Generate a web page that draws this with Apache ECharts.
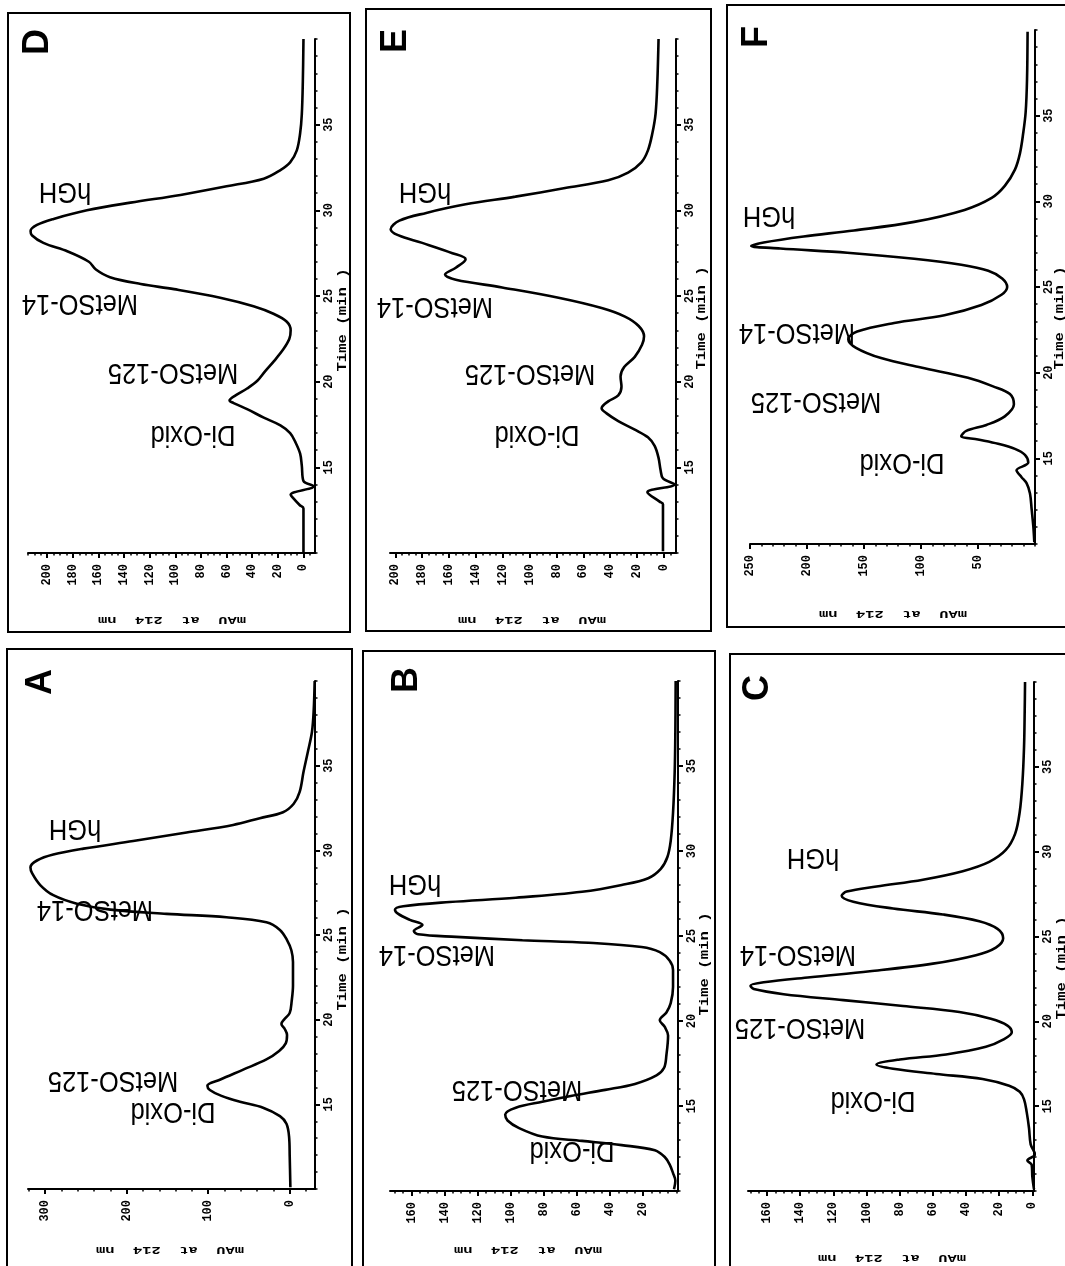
<!DOCTYPE html>
<html><head><meta charset="utf-8">
<script src="https://cdn.jsdelivr.net/npm/echarts@6/dist/echarts.min.js"></script>
<style>html,body{margin:0;padding:0;background:#fff}#c{width:1065px;height:1266px}</style>
</head><body><div id="c"></div>
<script>
// ---------- DATA (time in min, absorbance in mAU) ----------
const panelNames = ['D', 'E', 'F', 'A', 'B', 'C'];
const peakNames = ['hGH', 'MetSO-14', 'MetSO-125', 'Di-Oxid'];
const timeAxisTitle = 'Time (min )';
const mauAxisTitle = 'mAU  at  214  nm';

const timeD = [10.0, 12.6, 12.8, 13.2, 13.4, 13.9, 14.2, 15.1, 15.8, 16.5, 17.0, 17.45, 17.9, 18.4, 18.75, 18.9, 19.2, 19.6, 20.05, 20.6, 21.2, 21.9, 22.5, 23.0, 23.5, 23.95, 24.4, 24.9, 25.4, 25.7, 26.1, 26.55, 27.0, 27.6, 28.1, 28.55, 28.8, 29.15, 29.5, 30.0, 30.45, 30.9, 31.4, 31.85, 32.35, 32.8, 33.5, 34.5, 35.6, 37.5, 40.0];
const mauD  = [0, 0, 3, 8, 10, -8, 0, 1.3, 2.6, 6.5, 10.4, 18, 31, 44, 54.5, 57.7, 53, 44, 36, 30, 23, 15.6, 11, 10, 13, 23, 39, 65, 101, 127, 151, 162, 167.5, 184, 203, 212, 213, 208, 195, 169, 135, 96, 60, 31, 18, 10.4, 5.2, 2.6, 1.3, 0.5, 0];

const timeE = [10.1, 12.85, 13.0, 13.55, 14.0, 14.35, 14.85, 15.55, 16.25, 16.75, 17.2, 17.7, 18.15, 18.45, 18.85, 19.2, 19.7, 20.3, 20.85, 21.45, 22.15, 22.65, 23.25, 23.8, 24.3, 24.9, 25.5, 25.95, 26.25, 26.65, 27.15, 27.5, 28.1, 28.55, 28.9, 29.4, 29.85, 30.35, 30.8, 31.3, 31.75, 32.2, 32.8, 33.5, 34.5, 35.65, 37.5, 40.0];
const mauE  = [0.7, 0.7, 3.2, 12.3, -7.9, 0.7, 2.5, 4, 6.9, 11.9, 21.7, 34, 42.7, 46.4, 41.5, 34, 31.6, 32.3, 29.6, 21.7, 16.3, 14.8, 18.8, 29, 46.4, 78.5, 120.5, 155, 163, 155, 147.7, 157.5, 180, 198, 203.5, 197, 177, 147.7, 110.6, 73.6, 41.5, 26.7, 16.8, 11.9, 8.6, 6.2, 4.9, 4];

const timeF = [10.1, 11.05, 12.0, 12.95, 13.55, 13.9, 14.3, 14.75, 15.2, 15.55, 15.85, 16.1, 16.3, 16.6, 16.95, 17.45, 18.15, 18.75, 19.2, 19.7, 20.3, 20.85, 21.45, 21.95, 22.4, 22.9, 23.35, 23.95, 24.55, 25.0, 25.5, 25.95, 26.3, 26.65, 27.0, 27.25, 27.4, 27.6, 27.95, 28.3, 28.8, 29.5, 30.2, 30.9, 31.85, 32.8, 34.0, 35.2, 37.1, 39.9];
const mauF  = [0.6, 1.5, 2.9, 4.4, 7.4, 11.8, 16.2, 5.9, 8.8, 17.6, 32.4, 50, 64.7, 60.3, 42.6, 26.5, 18.5, 22, 36.8, 58.8, 100, 135, 157, 163.8, 156, 123.5, 79.4, 47, 29.4, 24.4, 28.8, 41, 64.7, 106, 164.7, 223.5, 249, 238, 203, 158.8, 106, 61.8, 38, 26.5, 17.6, 13.2, 10.3, 8.2, 7, 6.5];

const timeA = [10.1, 11.9, 13.1, 13.85, 14.3, 14.8, 15.15, 15.5, 15.85, 16.1, 16.45, 17.05, 17.65, 18.15, 18.6, 19.1, 19.45, 19.75, 20.05, 20.4, 21.1, 22.0, 23.4, 24.1, 24.7, 25.3, 25.75, 26.05, 26.25, 26.5, 26.85, 27.35, 27.95, 28.65, 29.0, 29.4, 29.75, 30.1, 30.55, 31.05, 31.5, 31.9, 32.25, 32.75, 33.45, 34.65, 35.85, 37.0, 38.25, 40.0];
const mauA  = [-0.8, 0, 0.8, 4, 12, 32.7, 61, 83.7, 98, 101, 85.7, 57, 28.6, 13, 4.9, 3.3, 6.1, 10.2, 6.1, 0, -2.4, -4, -4, -2, 3.3, 12, 28.6, 77.6, 151, 220, 261, 290, 306, 316, 318, 310, 290, 253, 192, 126.5, 69.4, 36.7, 8.2, -4.9, -12.2, -17, -22.4, -27.3, -29.4, -30.6];

const timeB = [10.1, 10.6, 11.05, 11.55, 12.0, 12.4, 12.7, 12.95, 13.2, 13.7, 14.15, 14.5, 14.9, 15.25, 15.6, 15.95, 16.3, 16.8, 17.25, 18.0, 19.15, 19.65, 20.05, 20.5, 21.05, 22.0, 23.0, 23.55, 24.05, 24.35, 24.6, 24.75, 24.95, 25.1, 25.3, 25.65, 25.95, 26.3, 26.55, 26.75, 27.0, 27.25, 27.6, 28.0, 28.4, 28.95, 29.65, 30.6, 32.25, 34.65, 37.0, 40.0];
const mauB  = [1.4, 0.6, 2, 4, 7, 13, 33, 57, 81, 95, 102, 103.4, 97, 81, 63, 43, 25, 12, 7.4, 6, 5, 7, 10, 6, 3.4, 2, 2, 4, 10, 21, 53, 93, 133, 156, 158.6, 153.4, 161, 168, 170, 165, 137, 97, 57, 33, 17, 9.4, 5.4, 3.4, 2, 1, 0.6, 0.4];

const timeC = [10.1, 10.85, 11.55, 11.8, 12.15, 12.75, 13.7, 14.65, 15.4, 15.85, 16.2, 16.6, 16.9, 17.2, 17.45, 17.75, 18.05, 18.5, 18.95, 19.35, 19.75, 20.15, 20.55, 20.9, 21.25, 21.6, 21.9, 22.1, 22.3, 22.6, 22.95, 23.4, 23.9, 24.35, 24.9, 25.45, 25.9, 26.3, 26.65, 27.05, 27.4, 27.65, 27.95, 28.35, 28.85, 29.4, 30.1, 31.05, 32.35, 34.05, 36.2, 38.35, 40.0];
const mauC  = [-1, 0, 0.4, 3, -1.6, 1, 2, 3.4, 5, 7.6, 14, 30, 58, 84, 94, 80, 52, 28, 17, 12.4, 15, 25, 44, 78, 114, 150, 168, 170, 162, 134, 98, 60, 34, 22, 17.6, 21, 32, 54, 84, 108, 115, 112, 94, 66, 42, 26, 16, 10.4, 7.6, 6, 5, 4.6, 4.4];

// tick labels
const timeTickLabels = [15, 20, 25, 30, 35];
const mauTicksD = [0, 20, 40, 60, 80, 100, 120, 140, 160, 180, 200];
const mauTicksE = [0, 20, 40, 60, 80, 100, 120, 140, 160, 180, 200];
const mauTicksF = [50, 100, 150, 200, 250];
const mauTicksA = [0, 100, 200, 300];
const mauTicksB = [20, 40, 60, 80, 100, 120, 140, 160];
const mauTicksC = [0, 20, 40, 60, 80, 100, 120, 140, 160];
// axis extents
const timeRange = [10, 40];
const mauRangeD = [-9, 215];
const mauRangeE = [-9, 204];
const mauRangeF = [0, 250];
const mauRangeA = [-31, 321];
const mauRangeB = [-1, 173];
const mauRangeC = [-1, 171.5];

// ---------- LAYOUT ----------
const layout = {
  D: {grid: [28, 39, 287, 514], box: [8, 13, 342, 619], letter: [38, 42], peaks: [[65,191],[80,303],[173,372],[193,434]], tname: [343, 320], mname: [172, 620], minorStep: 5},
  E: {grid: [390, 39, 286, 514], box: [366, 9, 345, 622], letter: [396, 41], peaks: [[425,191],[435,306],[530,373],[537,434]], tname: [702, 318], mname: [532, 620], minorStep: 5},
  F: {grid: [750, 30, 285, 514], box: [727, 5, 345, 622], letter: [757, 37], peaks: [[769,215],[797,332],[816,401],[902,462]], tname: [1060, 318], mname: [893, 614], minorStep: 10},
  A: {grid: [28, 681, 287, 508], box: [7, 649, 345, 640], letter: [41, 682], peaks: [[75,828],[95,909],[113,1080],[173,1111]], tname: [343, 959], mname: [170, 1250], minorStep: 20},
  B: {grid: [390, 681, 288, 510], box: [363, 651, 352, 640], letter: [407, 680], peaks: [[415,883],[437,954],[517,1089],[572,1150]], tname: [705, 964], mname: [528, 1250], minorStep: 5},
  C: {grid: [748, 682, 286, 509], box: [730, 654, 345, 640], letter: [758, 688], peaks: [[813,857],[798,954],[800,1027],[873,1100]], tname: [1062, 968], mname: [892, 1258], minorStep: 5}
};

const series_t = {D: timeD, E: timeE, F: timeF, A: timeA, B: timeB, C: timeC};
const series_m = {D: mauD, E: mauE, F: mauF, A: mauA, B: mauB, C: mauC};
const ticks_m = {D: mauTicksD, E: mauTicksE, F: mauTicksF, A: mauTicksA, B: mauTicksB, C: mauTicksC};
const range_m = {D: mauRangeD, E: mauRangeE, F: mauRangeF, A: mauRangeA, B: mauRangeB, C: mauRangeC};

const MONO = '"Liberation Mono", "DejaVu Sans Mono", monospace';
const SANS = '"Liberation Sans", Arial, sans-serif';

const grids = [], xMain = [], xMinor = [], yMain = [], yMinor = [], series = [], elements = [];

function minorValues(r, step) {
  const out = [];
  for (let v = Math.ceil(r[0] / step) * step; v <= r[1] + 1e-9; v += step) out.push(v);
  return out;
}
function txt(x, y, rot, text, font, sx, sy) {
  return {type: 'text', x: x, y: y, rotation: rot, scaleX: sx || 1, scaleY: sy || 1, silent: true,
    style: {text: text, fill: '#000', font: font, align: 'center', verticalAlign: 'middle',
      textAlign: 'center', textVerticalAlign: 'middle'}};
}

panelNames.forEach((p, i) => {
  const L = layout[p];
  grids.push({left: L.grid[0], top: L.grid[1], width: L.grid[2], height: L.grid[3]});
  const r = range_m[p];
  xMain.push({
    gridIndex: i, type: 'value', position: 'bottom', inverse: true, min: r[0], max: r[1],
    splitLine: {show: false},
    axisLine: {show: true, onZero: false, lineStyle: {color: '#000', width: 2}},
    axisTick: {show: true, customValues: ticks_m[p], length: 5, lineStyle: {color: '#000', width: 2}},
    axisLabel: {show: true, customValues: ticks_m[p], rotate: 90, margin: 11, color: '#000',
      fontFamily: MONO, fontWeight: 'bold', fontSize: 12}
  });
  xMinor.push({
    gridIndex: i, type: 'value', position: 'bottom', inverse: true, min: r[0], max: r[1],
    splitLine: {show: false}, axisLine: {show: false, onZero: false},
    axisTick: {show: true, customValues: minorValues(r, L.minorStep), length: 2.5, lineStyle: {color: '#000', width: 1.5}},
    axisLabel: {show: false}
  });
  yMain.push({
    gridIndex: i, type: 'value', position: 'right', min: timeRange[0], max: timeRange[1],
    splitLine: {show: false},
    axisLine: {show: true, onZero: false, lineStyle: {color: '#000', width: 2}},
    axisTick: {show: true, customValues: timeTickLabels, length: 5, lineStyle: {color: '#000', width: 2}},
    axisLabel: {show: true, customValues: timeTickLabels, rotate: 90, margin: 8, color: '#000',
      fontFamily: MONO, fontWeight: 'bold', fontSize: 12}
  });
  yMinor.push({
    gridIndex: i, type: 'value', position: 'right', min: timeRange[0], max: timeRange[1],
    splitLine: {show: false}, axisLine: {show: false, onZero: false},
    axisTick: {show: true, customValues: minorValues(timeRange, 1), length: 2.5, lineStyle: {color: '#000', width: 1.5}},
    axisLabel: {show: false}
  });
  const t = series_t[p], m = series_m[p];
  series.push({
    type: 'line', xAxisIndex: i, yAxisIndex: i, showSymbol: false, symbol: 'none',
    smooth: 0.35, animation: false,
    lineStyle: {color: '#000', width: 2.6},
    data: t.map((tv, k) => [m[k], tv])
  });
  // frame
  elements.push({type: 'rect', shape: {x: L.box[0], y: L.box[1], width: L.box[2], height: L.box[3]},
    style: {fill: 'none', stroke: '#000', lineWidth: 2}, silent: true});
  // panel letter
  elements.push(txt(L.letter[0], L.letter[1], Math.PI / 2, p, 'bold 36px ' + SANS));
  // peak labels (upside down)
  peakNames.forEach((nm, k) => {
    elements.push(txt(L.peaks[k][0], L.peaks[k][1], Math.PI, nm, '25px ' + SANS, 1.02, 1.2));
  });
  // axis titles
  elements.push(txt(L.tname[0], L.tname[1], Math.PI / 2, timeAxisTitle, 'bold 12px ' + MONO, 1.3, 1));
  elements.push(txt(L.mname[0], L.mname[1], Math.PI, mauAxisTitle, 'bold 11px ' + MONO, 1.4, 1));
});

const chart = echarts.init(document.getElementById('c'), null, {renderer: 'canvas'});
chart.setOption({
  backgroundColor: '#fff',
  animation: false,
  grid: grids,
  xAxis: xMain.concat(xMinor),
  yAxis: yMain.concat(yMinor),
  series: series,
  graphic: {elements: elements}
});
</script>
</body></html>
